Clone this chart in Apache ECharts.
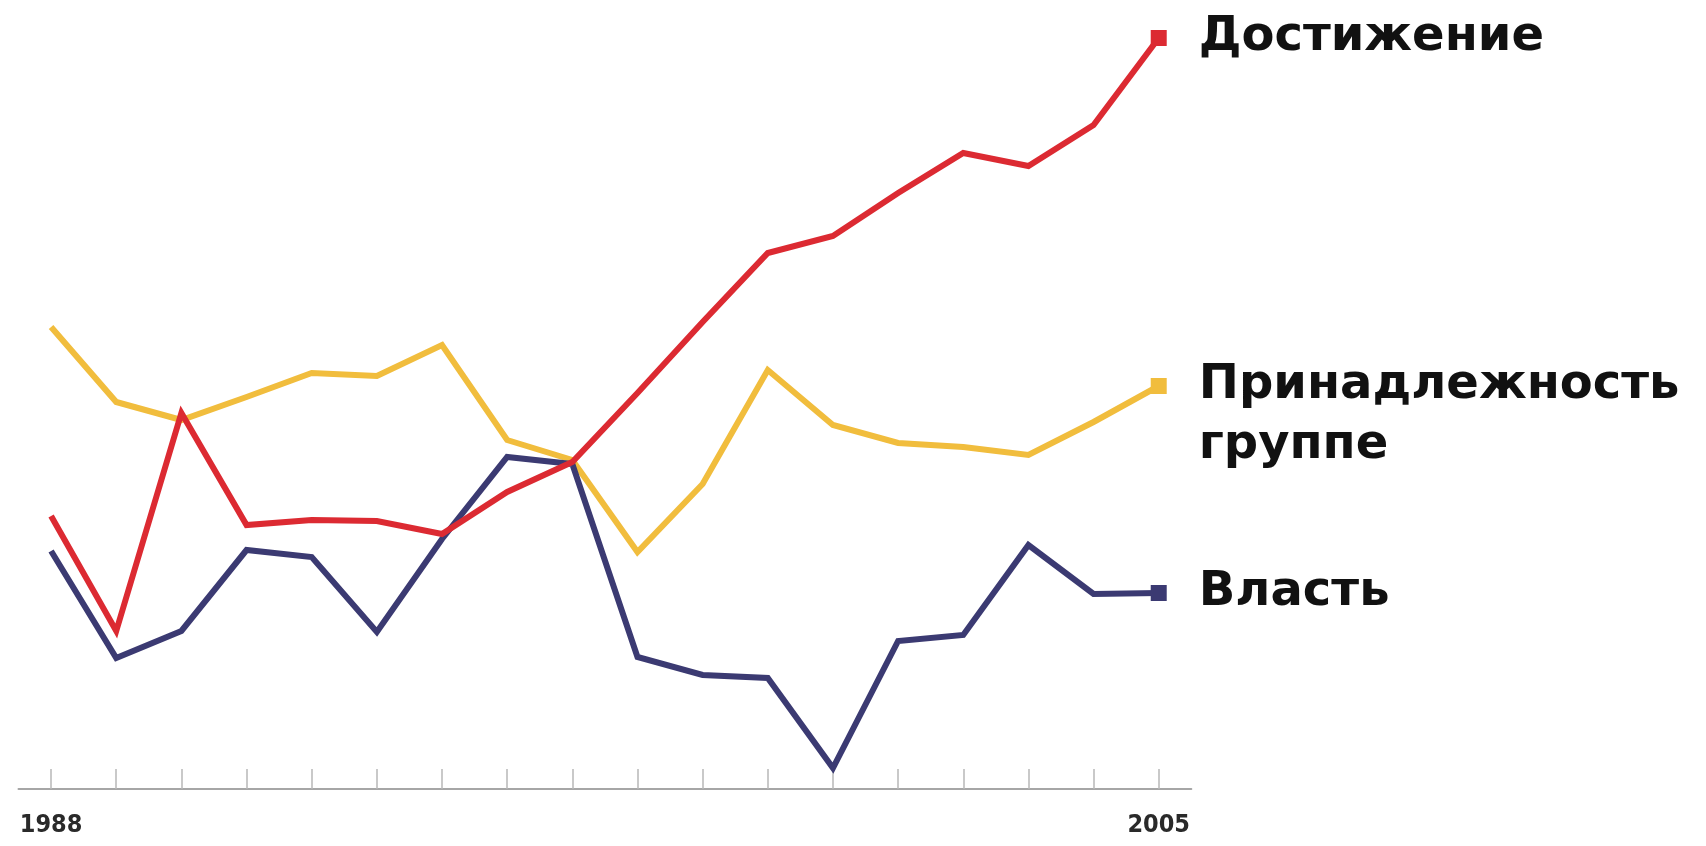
<!DOCTYPE html>
<html>
<head>
<meta charset="utf-8">
<script src="https://cdn.jsdelivr.net/npm/echarts@6/dist/echarts.min.js"></script>
<style>
  html, body { margin: 0; padding: 0; background: #ffffff; }
  #chart { width: 1706px; height: 846px; }
</style>
</head>
<body>
<div id="chart"></div>
<script>
// Years on the horizontal axis
const years = ['1988','1989','1990','1991','1992','1993','1994','1995','1996',
               '1997','1998','1999','2000','2001','2002','2003','2004','2005'];

// Motive indices per year
const achievement = [27.3, 15.8, 37.6, 26.4, 26.9, 26.8, 25.5, 29.7, 32.7,
                     39.6, 46.7, 53.6, 55.3, 59.6, 63.6, 62.3, 66.4, 75.1];
const affiliation = [46.2, 38.7, 36.9, 39.2, 41.6, 41.3, 44.4, 34.9, 32.9,
                     23.7, 30.5, 41.9, 36.4, 34.6, 34.2, 33.4, 36.7, 40.3];
const power       = [23.8, 13.1, 15.8, 23.9, 23.2, 15.7, 25.0, 33.2, 32.5,
                     13.2, 11.4, 11.1,  2.1, 14.8, 15.4, 24.4, 19.5, 19.6];

const seriesNames = ['Достижение', 'Принадлежность\nгруппе', 'Власть'];
const seriesColors = ['#dc2a32', '#f1bd3d', '#3b3a72'];

const lastIndex = years.length - 1;

function makeSeries(name, data, color, z, labelOffsetY) {
  return {
    name: name,
    type: 'line',
    data: data,
    z: z,
    smooth: false,
    lineStyle: { color: color, width: 6, join: 'miter', cap: 'butt' },
    itemStyle: { color: color },
    symbol: function (value, params) {
      return params.dataIndex === lastIndex ? 'rect' : 'none';
    },
    symbolSize: 16,
    showAllSymbol: true,
    endLabel: {
      show: true,
      formatter: function () { return name; },
      distance: 40,
      offset: [0, labelOffsetY],
      color: '#111111',
      fontFamily: '"DejaVu Sans", sans-serif',
      fontWeight: 'bold',
      fontSize: 48,
      lineHeight: 60,
      align: 'left'
    }
  };
}

const chart = echarts.init(document.getElementById('chart'), null, { renderer: 'canvas' });

chart.setOption({
  animation: false,
  backgroundColor: '#ffffff',
  grid: { left: 18.5, right: 514.7, top: 19, bottom: 57, containLabel: false },
  xAxis: {
    type: 'category',
    data: years,
    boundaryGap: true,
    axisLine: { show: true, lineStyle: { color: '#a6a6a6', width: 2 } },
    axisTick: {
      show: true,
      interval: 0,
      alignWithLabel: true,
      inside: true,
      length: 20,
      lineStyle: { color: '#b8b8b8', width: 1.5 }
    },
    axisLabel: {
      interval: function (index) { return index === 0 || index === lastIndex; },
      margin: 24,
      color: '#2a2a2a',
      fontFamily: '"DejaVu Sans Condensed", "Liberation Sans", sans-serif',
      fontWeight: 'bold',
      fontSize: 25
    },
    splitLine: { show: false }
  },
  yAxis: {
    type: 'value',
    min: 0,
    max: 77,
    show: false
  },
  series: [
    makeSeries(seriesNames[1], affiliation, seriesColors[1], 2, 30),
    makeSeries(seriesNames[2], power, seriesColors[2], 3, 0),
    makeSeries(seriesNames[0], achievement, seriesColors[0], 4, 0)
  ]
});
</script>
</body>
</html>
